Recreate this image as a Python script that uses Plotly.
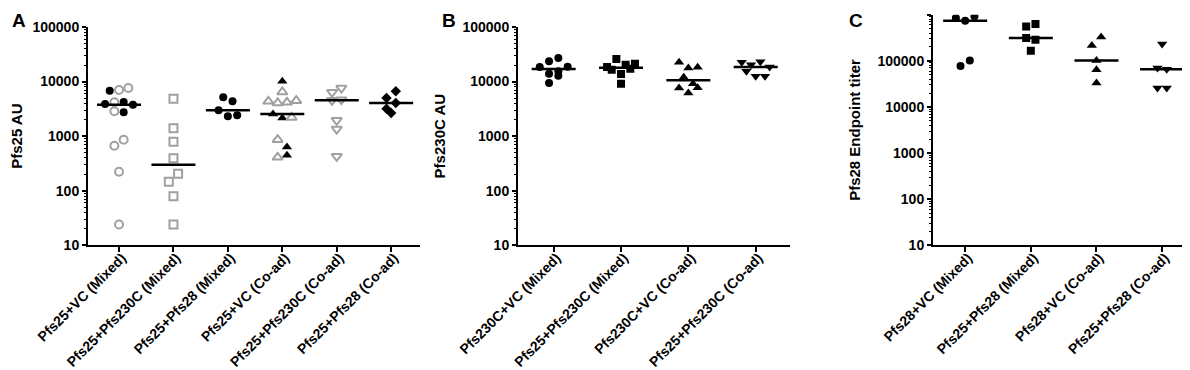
import numpy as np
import plotly.graph_objects as go

# ---------------- data ----------------
# Panel A: Pfs25 AU
a_categories = ["Pfs25+VC (Mixed)", "Pfs25+Pfs230C (Mixed)", "Pfs25+Pfs28 (Mixed)",
                "Pfs25+VC (Co-ad)", "Pfs25+Pfs230C (Co-ad)", "Pfs25+Pfs28 (Co-ad)"]
a_pfs25_vc_mixed = [6800, 7000, 7620, 3880, 4170, 4220, 3770, 2850, 2730, 668, 861, 223, 24]
a_pfs25_vc_mixed_study = [1, 2, 2, 1, 2, 1, 1, 2, 1, 2, 2, 2, 2]
a_pfs25_pfs230c_mixed = [4850, 1390, 791, 393, 146, 205, 79, 24]
a_pfs25_pfs230c_mixed_study = [2, 2, 2, 2, 2, 2, 2, 2]
a_pfs25_pfs28_mixed = [5150, 4350, 2970, 2310, 2410]
a_pfs25_pfs28_mixed_study = [1, 1, 1, 1, 1]
a_pfs25_vc_coad = [10110, 6440, 4350, 4050, 4170, 4460, 2550, 2150, 2200, 861, 632, 410, 446]
a_pfs25_vc_coad_study = [1, 2, 2, 2, 2, 2, 1, 1, 2, 2, 1, 2, 1]
a_pfs25_pfs230c_coad = [6350, 7620, 4540, 4650, 1950, 1350, 427]
a_pfs25_pfs230c_coad_study = [2, 2, 2, 2, 2, 2, 2]
a_pfs25_pfs28_coad = [5000, 6630, 3180, 4050, 2650]
a_pfs25_pfs28_coad_study = [1, 1, 1, 1, 1]

# Panel B: Pfs230C AU
b_categories = ["Pfs230C+VC (Mixed)", "Pfs25+Pfs230C (Mixed)",
                "Pfs230C+VC (Co-ad)", "Pfs25+Pfs230C (Co-ad)"]
b_pfs230c_vc_mixed = [23500, 27000, 18490, 13930, 15420, 18700, 9410, 12800]
b_pfs25_pfs230c_mixed = [18490, 25900, 20400, 21250, 16500, 13760, 17200, 9140]
b_pfs230c_vc_coad = [22540, 17700, 18240, 11970, 9140, 7620, 6170, 7700]
b_pfs25_pfs230c_coad = [22540, 20400, 23000, 18490, 15420, 12480, 12480]

# Panel C: Pfs28 endpoint titer
c_categories = ["Pfs28+VC (Mixed)", "Pfs25+Pfs28 (Mixed)",
                "Pfs28+VC (Co-ad)", "Pfs25+Pfs28 (Co-ad)"]
c_pfs28_vc_mixed = [847000, 741000, 920000, 77100, 102000]
c_pfs25_pfs28_mixed = [558000, 628000, 312000, 287000, 166000]
c_pfs28_vc_coad = [216000, 328000, 102000, 64300, 33000]
c_pfs25_pfs28_coad = [231000, 69800, 66000, 25700, 25700]

a_ticks = [10, 100, 1000, 10000, 100000]
c_ticks = [10, 100, 1000, 10000, 100000, 1000000]

# ---------------- layout constants ----------------
FIG_W, FIG_H = 1190, 370
FONT = "Liberation Sans"
GRAY = "#a0a0a0"
# plot boxes in px: (left, right, top, bottom)
BOX = {
    "A": (80, 412, 19, 237.3),
    "B": (510, 781.7, 19, 237.3),
    "C": (925, 1183, 6.7, 237.3),
}
XRANGE = {"A": (-0.57, 5.53), "B": (-0.53, 3.505), "C": (-0.49, 3.44)}
YRANGE = {"A": (1, 5), "B": (1, 5), "C": (1, 6)}
ROW_PX = 8.5     # vertical closeness that puts points in one row
STEP_PX = 9.3    # horizontal spacing of points within a row
HALF_LINE_PX = 22

fig = go.Figure()


def swarm_offsets(values, px_per_decade):
    vals = np.asarray(values, dtype=float)
    ypx = np.log10(vals) * px_per_decade
    order = sorted(range(len(vals)), key=lambda i: -vals[i])
    rows = []
    for i in order:
        if rows and ypx[rows[-1][0]] - ypx[i] <= ROW_PX:
            rows[-1].append(i)
        else:
            rows.append([i])
    off = np.zeros(len(vals))
    for r in rows:
        r = sorted(r)
        k = len(r)
        for j, i in enumerate(r):
            off[i] = (j - (k - 1) / 2) * STEP_PX
    return off


def add_group(panel, idx, values, study, symbol):
    l, r, t, b = BOX[panel]
    x0, x1 = XRANGE[panel]
    y0, y1 = YRANGE[panel]
    px_per_cat = (r - l) / (x1 - x0)
    px_per_dec = (b - t) / (y1 - y0)
    axis_n = {"A": "", "B": "2", "C": "3"}[panel]
    off = swarm_offsets(values, px_per_dec) / px_per_cat
    vals = np.asarray(values, dtype=float)
    st = np.asarray(study)
    xs = idx + off
    size = 9 if "triangle" in symbol else 8
    for s in (1, 2):
        m = st == s
        if not m.any():
            continue
        if s == 1:
            marker = dict(symbol=symbol, color="black", size=size, line=dict(width=0))
        else:
            marker = dict(symbol=symbol + "-open", color=GRAY, size=size,
                          line=dict(width=2, color=GRAY))
        fig.add_trace(go.Scatter(x=xs[m], y=vals[m], mode="markers", marker=marker,
                                 xaxis="x" + axis_n, yaxis="y" + axis_n,
                                 showlegend=False, hoverinfo="y"))
    med = float(np.median(vals))
    hw = HALF_LINE_PX / px_per_cat
    fig.add_trace(go.Scatter(x=[idx - hw, idx + hw], y=[med, med], mode="lines",
                             line=dict(color="black", width=2.5),
                             xaxis="x" + axis_n, yaxis="y" + axis_n,
                             showlegend=False, hoverinfo="skip"))


def ones(n):
    return [1] * n


# Panel A
add_group("A", 0, a_pfs25_vc_mixed, a_pfs25_vc_mixed_study, "circle")
add_group("A", 1, a_pfs25_pfs230c_mixed, a_pfs25_pfs230c_mixed_study, "square")
add_group("A", 2, a_pfs25_pfs28_mixed, a_pfs25_pfs28_mixed_study, "circle")
add_group("A", 3, a_pfs25_vc_coad, a_pfs25_vc_coad_study, "triangle-up")
add_group("A", 4, a_pfs25_pfs230c_coad, a_pfs25_pfs230c_coad_study, "triangle-down")
add_group("A", 5, a_pfs25_pfs28_coad, a_pfs25_pfs28_coad_study, "diamond")
# Panel B
add_group("B", 0, b_pfs230c_vc_mixed, ones(len(b_pfs230c_vc_mixed)), "circle")
add_group("B", 1, b_pfs25_pfs230c_mixed, ones(len(b_pfs25_pfs230c_mixed)), "square")
add_group("B", 2, b_pfs230c_vc_coad, ones(len(b_pfs230c_vc_coad)), "triangle-up")
add_group("B", 3, b_pfs25_pfs230c_coad, ones(len(b_pfs25_pfs230c_coad)), "triangle-down")
# Panel C
add_group("C", 0, c_pfs28_vc_mixed, ones(len(c_pfs28_vc_mixed)), "circle")
add_group("C", 1, c_pfs25_pfs28_mixed, ones(len(c_pfs25_pfs28_mixed)), "square")
add_group("C", 2, c_pfs28_vc_coad, ones(len(c_pfs28_vc_coad)), "triangle-up")
add_group("C", 3, c_pfs25_pfs28_coad, ones(len(c_pfs25_pfs28_coad)), "triangle-down")

xtick_font = dict(family=FONT, size=14, color="black", weight=700)
ytick_font = dict(family=FONT, size=14, color="black", weight=700)
title_font = dict(family=FONT, size=15, color="black", weight=700)


def minor_vals(lo, hi):
    return [m * 10 ** e for e in range(lo, hi) for m in range(2, 10)]


def xaxis(panel, cats):
    l, r, t, b = BOX[panel]
    return dict(domain=[l / FIG_W, r / FIG_W], range=list(XRANGE[panel]),
                tickmode="array", tickvals=list(range(len(cats))), ticktext=cats,
                tickangle=-45, tickfont=xtick_font, ticks="outside", ticklen=5,
                tickwidth=2, tickcolor="black", showline=True, linewidth=2,
                linecolor="black", showgrid=False, zeroline=False, automargin=False,
                ticklabelstandoff=-8, ticklabelshift=3,
                anchor={"A": "y", "B": "y2", "C": "y3"}[panel], fixedrange=True)


def yaxis(panel, ticks, title):
    l, r, t, b = BOX[panel]
    y0, y1 = YRANGE[panel]
    return dict(domain=[1 - b / FIG_H, 1 - t / FIG_H], type="log", range=[y0, y1],
                tickmode="array", tickvals=ticks, ticktext=[str(v) for v in ticks],
                tickfont=ytick_font, ticks="outside", ticklen=4, tickwidth=2,
                tickcolor="black", showline=True, linewidth=2, linecolor="black",
                showgrid=False, zeroline=False, automargin=False,
                minor=dict(tickmode="array", tickvals=minor_vals(int(y0), int(y1)),
                           ticks="outside", ticklen=2.5, tickwidth=1, tickcolor="black",
                           showgrid=False),
                title=dict(text=title, font=title_font, standoff=13),
                anchor={"A": "x", "B": "x2", "C": "x3"}[panel], fixedrange=True)


fig.update_layout(
    width=FIG_W, height=FIG_H,
    margin=dict(l=0, r=0, t=0, b=0, autoexpand=False),
    paper_bgcolor="white", plot_bgcolor="white",
    showlegend=False,
    xaxis=xaxis("A", a_categories),
    xaxis2=xaxis("B", b_categories),
    xaxis3=xaxis("C", c_categories),
    yaxis=yaxis("A", a_ticks, "Pfs25 AU"),
    yaxis2=yaxis("B", a_ticks, "Pfs230C AU"),
    yaxis3=yaxis("C", c_ticks, "Pfs28 Endpoint titer"),
    font=dict(family=FONT, color="black"),
)

for letter, (px, py) in {"A": (11, 13), "B": (441, 13), "C": (848, 12)}.items():
    fig.add_annotation(text=letter, x=px / FIG_W, y=1 - py / FIG_H, xref="paper", yref="paper",
                       showarrow=False, xanchor="center", yanchor="middle",
                       font=dict(family=FONT, size=19, color="black", weight=700))

fig.write_html("out.html")
